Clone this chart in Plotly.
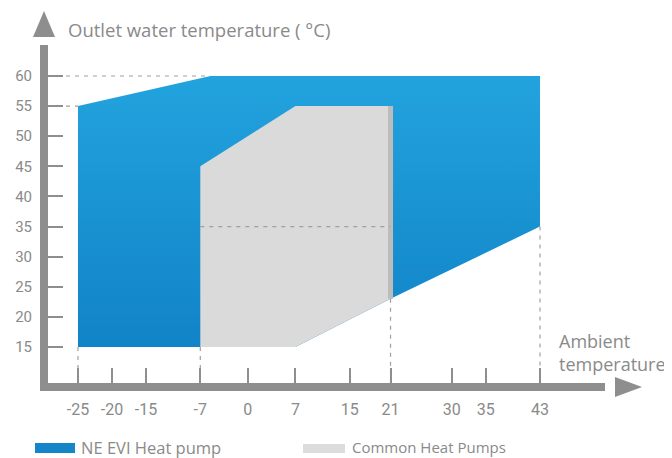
import plotly.graph_objects as go

# ---- data ----
x_ticks = [-25, -20, -15, -7, 0, 7, 15, 21, 30, 35, 43]
y_ticks = [15, 20, 25, 30, 35, 40, 45, 50, 55, 60]

evi_x = [-25, -25, -5.5, 43, 43, 21, 7]
evi_y = [15, 55, 60, 60, 35, 23, 15]

common_x = [-7, -7, 7, 21, 21, 7]
common_y = [15, 45, 55, 55, 23, 15]

evi_name = "NE EVI Heat pump"
common_name = "Common Heat Pumps"

# ---- layout constants (page body has an 8px margin) ----
OFF = 8
W, H = 672 - OFF, 458 - OFF
X_RANGE = [-29.416, 52.568]
Y_RANGE = [9.022, 65.149]
AX = "#8e8e8e"
TXT = "#8a8a8a"
FONT = "Roboto"
TFONT = "Open Sans"


def px(xp):
    return (xp - OFF) / W


def py(yp):
    return 1 - (yp - OFF) / H


fig = go.Figure()

fig.add_trace(go.Scatter(
    x=evi_x, y=evi_y, fill="toself", mode="lines", line=dict(width=0),
    fillgradient=dict(type="vertical", colorscale=[[0, "#1183c7"], [1, "#22a3de"]]),
    name=evi_name, hoverinfo="skip", showlegend=False))

fig.add_trace(go.Scatter(
    x=common_x, y=common_y, fill="toself", mode="lines", line=dict(width=0),
    fillcolor="#dadada", name=common_name, hoverinfo="skip", showlegend=False))

# shadow strip at the right edge of the common area
fig.add_trace(go.Scatter(
    x=[common_x[3], common_x[4]], y=[common_y[3], common_y[4]], mode="lines",
    line=dict(color="#bcbcbc", width=5), hoverinfo="skip", showlegend=False))

# dashed reference lines derived from the envelope corners
xl, yb = X_RANGE[0], Y_RANGE[0]
dx, dy = [], []
for (a, b) in [((xl, evi_y[2]), (evi_x[2], evi_y[2])),
               ((xl, evi_y[1]), (evi_x[1], evi_y[1])),
               ((common_x[0], 35), (common_x[3], 35)),
               ((evi_x[0], evi_y[0]), (evi_x[0], yb)),
               ((common_x[0], common_y[0]), (common_x[0], yb)),
               ((common_x[4], common_y[4]), (common_x[4], yb)),
               ((evi_x[4], evi_y[4]), (evi_x[4], yb))]:
    dx += [a[0], b[0], None]
    dy += [a[1], b[1], None]
fig.add_trace(go.Scatter(x=dx, y=dy, mode="lines",
                         line=dict(color="#a0a0a0", width=1.2, dash="4px,5px"),
                         hoverinfo="skip", showlegend=False))

fig.update_layout(
    width=W, height=H,
    margin=dict(l=0, r=0, t=0, b=0, pad=0),
    paper_bgcolor="white", plot_bgcolor="white",
    font=dict(family=FONT, color=TXT),
    xaxis=dict(domain=[px(48), px(605)], range=X_RANGE, tickvals=x_ticks,
               ticktext=[str(v) for v in x_ticks], showgrid=False, zeroline=False,
               showline=True, linewidth=8, linecolor=AX, ticks="inside",
               ticklen=15, tickwidth=2, tickcolor=AX,
               tickfont=dict(size=16, color=TXT, family=FONT), ticklabelstandoff=5),
    yaxis=dict(domain=[py(383), py(45)], range=Y_RANGE, tickvals=y_ticks,
               ticktext=[str(v) for v in y_ticks], showgrid=False, zeroline=False,
               showline=True, linewidth=8, linecolor=AX, ticks="inside",
               ticklen=15, tickwidth=2, tickcolor=AX,
               tickfont=dict(size=15, color=TXT, family=FONT), ticklabelstandoff=5),
)

shapes = [
    # arrows
    dict(type="path", xref="paper", yref="paper",
         path=f"M {px(615)} {py(377)} L {px(642)} {py(387)} L {px(615)} {py(397)} Z",
         fillcolor=AX, line=dict(width=0)),
    dict(type="path", xref="paper", yref="paper",
         path=f"M {px(33)} {py(37)} L {px(44)} {py(11)} L {px(55)} {py(37)} Z",
         fillcolor=AX, line=dict(width=0)),
    # legend swatches
    dict(type="rect", xref="paper", yref="paper",
         x0=px(35), x1=px(75), y0=py(453), y1=py(443),
         fillcolor="#1485c9", line=dict(width=0)),
    dict(type="rect", xref="paper", yref="paper",
         x0=px(303), x1=px(345), y0=py(453), y1=py(444),
         fillcolor="#dcdcdc", line=dict(width=0)),
]
fig.update_layout(shapes=shapes)

ann = [
    dict(text="Outlet water temperature ( °C)", x=px(66), y=py(30), xanchor="left",
         yanchor="middle", font=dict(size=18.5, color=TXT, family=TFONT)),
    dict(text="Ambient<br>temperature", x=px(557), y=py(352), xanchor="left",
         yanchor="middle", align="left", font=dict(size=18, color=TXT, family=TFONT)),
    dict(text=evi_name, x=px(79), y=py(447), xanchor="left", yanchor="middle",
         font=dict(size=16.5, color=TXT, family=TFONT)),
    dict(text=common_name, x=px(350), y=py(447), xanchor="left", yanchor="middle",
         font=dict(size=15, color=TXT, family=TFONT)),
]
for a in ann:
    a.update(xref="paper", yref="paper", showarrow=False)
fig.update_layout(annotations=ann)

fig.write_html("out.html")
